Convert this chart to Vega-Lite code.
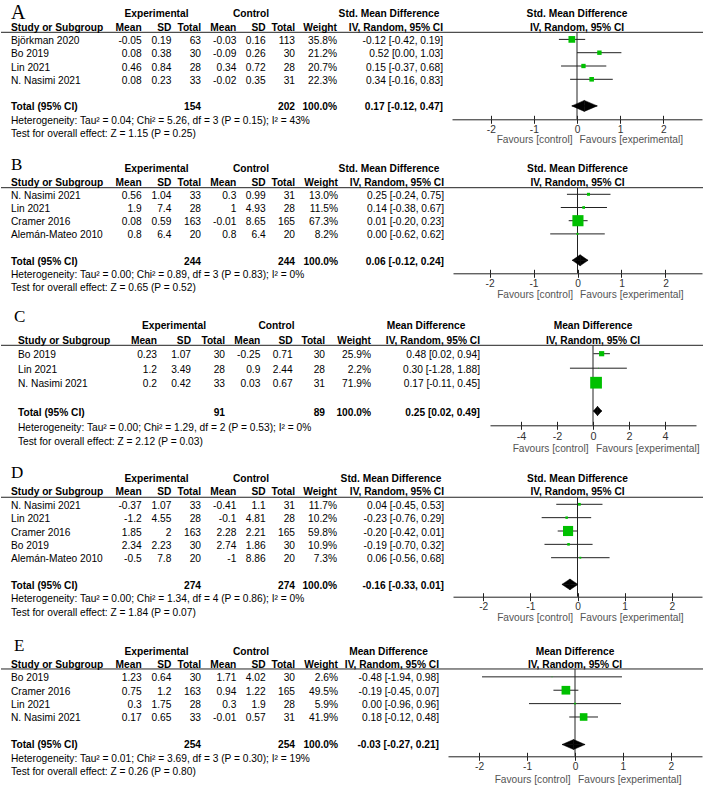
{
"$schema":"https://vega.github.io/schema/vega-lite/v6.json",
"padding":0,"spacing":0,"bounds":"flush","background":"white",
"resolve":{"scale":{"size":"independent"}},
"datasets":{
"hSMD":[{"row":"h1","t":"Std. Mean Difference"},{"row":"h2","t":"IV, Random, 95% CI"}],
"hMD":[{"row":"h1","t":"Mean Difference"},{"row":"h2","t":"IV, Random, 95% CI"}],
"hE":[{"row":"h2","key":"eM","t":"Mean"},{"row":"h2","key":"eSD","t":"SD"},{"row":"h2","key":"eN","t":"Total"}],
"hC":[{"row":"h2","key":"cM","t":"Mean"},{"row":"h2","key":"cSD","t":"SD"},{"row":"h2","key":"cN","t":"Total"}],
"A":[
{"row":"Björkman 2020","eM":-0.05,"eSD":0.19,"eN":63,"cM":-0.03,"cSD":0.16,"cN":113,"w":0.358,"est":-0.12,"lo":-0.42,"hi":0.19,"ci":"-0.12 [-0.42, 0.19]"},
{"row":"Bo 2019","eM":0.08,"eSD":0.38,"eN":30,"cM":-0.09,"cSD":0.26,"cN":30,"w":0.212,"est":0.52,"lo":0.0,"hi":1.03,"ci":"0.52 [0.00, 1.03]"},
{"row":"Lin 2021","eM":0.46,"eSD":0.84,"eN":28,"cM":0.34,"cSD":0.72,"cN":28,"w":0.207,"est":0.15,"lo":-0.37,"hi":0.68,"ci":"0.15 [-0.37, 0.68]"},
{"row":"N. Nasimi 2021","eM":0.08,"eSD":0.23,"eN":33,"cM":-0.02,"cSD":0.35,"cN":31,"w":0.223,"est":0.34,"lo":-0.16,"hi":0.83,"ci":"0.34 [-0.16, 0.83]"}],
"At":[{"row":"Total (95% CI)","eN":154,"cN":202,"w":1,"est":0.17,"lo":-0.12,"hi":0.47,"ci":"0.17 [-0.12, 0.47]"}],
"Ah":[{"row":"het","t":"Heterogeneity: Tau² = 0.04; Chi² = 5.26, df = 3 (P = 0.15); I² = 43%"},{"row":"test","t":"Test for overall effect: Z = 1.15 (P = 0.25)"}],
"B":[
{"row":"N. Nasimi 2021","eM":0.56,"eSD":1.04,"eN":33,"cM":0.3,"cSD":0.99,"cN":31,"w":0.13,"est":0.25,"lo":-0.24,"hi":0.75,"ci":"0.25 [-0.24, 0.75]"},
{"row":"Lin 2021","eM":1.9,"eSD":7.4,"eN":28,"cM":1,"cSD":4.93,"cN":28,"w":0.115,"est":0.14,"lo":-0.38,"hi":0.67,"ci":"0.14 [-0.38, 0.67]"},
{"row":"Cramer 2016","eM":0.08,"eSD":0.59,"eN":163,"cM":-0.01,"cSD":8.65,"cN":165,"w":0.673,"est":0.01,"lo":-0.2,"hi":0.23,"ci":"0.01 [-0.20, 0.23]"},
{"row":"Alemán-Mateo 2010","eM":0.8,"eSD":6.4,"eN":20,"cM":0.8,"cSD":6.4,"cN":20,"w":0.082,"est":0.0,"lo":-0.62,"hi":0.62,"ci":"0.00 [-0.62, 0.62]"}],
"Bt":[{"row":"Total (95% CI)","eN":244,"cN":244,"w":1,"est":0.06,"lo":-0.12,"hi":0.24,"ci":"0.06 [-0.12, 0.24]"}],
"Bh":[{"row":"het","t":"Heterogeneity: Tau² = 0.00; Chi² = 0.89, df = 3 (P = 0.83); I² = 0%"},{"row":"test","t":"Test for overall effect: Z = 0.65 (P = 0.52)"}],
"C":[
{"row":"Bo 2019","eM":0.23,"eSD":1.07,"eN":30,"cM":-0.25,"cSD":0.71,"cN":30,"w":0.259,"est":0.48,"lo":0.02,"hi":0.94,"ci":"0.48 [0.02, 0.94]"},
{"row":"Lin 2021","eM":1.2,"eSD":3.49,"eN":28,"cM":0.9,"cSD":2.44,"cN":28,"w":0.022,"est":0.3,"lo":-1.28,"hi":1.88,"ci":"0.30 [-1.28, 1.88]"},
{"row":"N. Nasimi 2021","eM":0.2,"eSD":0.42,"eN":33,"cM":0.03,"cSD":0.67,"cN":31,"w":0.719,"est":0.17,"lo":-0.11,"hi":0.45,"ci":"0.17 [-0.11, 0.45]"}],
"Ct":[{"row":"Total (95% CI)","eN":91,"cN":89,"w":1,"est":0.25,"lo":0.02,"hi":0.49,"ci":"0.25 [0.02, 0.49]"}],
"Ch":[{"row":"het","t":"Heterogeneity: Tau² = 0.00; Chi² = 1.29, df = 2 (P = 0.53); I² = 0%"},{"row":"test","t":"Test for overall effect: Z = 2.12 (P = 0.03)"}],
"D":[
{"row":"N. Nasimi 2021","eM":-0.37,"eSD":1.07,"eN":33,"cM":-0.41,"cSD":1.1,"cN":31,"w":0.117,"est":0.04,"lo":-0.45,"hi":0.53,"ci":"0.04 [-0.45, 0.53]"},
{"row":"Lin 2021","eM":-1.2,"eSD":4.55,"eN":28,"cM":-0.1,"cSD":4.81,"cN":28,"w":0.102,"est":-0.23,"lo":-0.76,"hi":0.29,"ci":"-0.23 [-0.76, 0.29]"},
{"row":"Cramer 2016","eM":1.85,"eSD":2,"eN":163,"cM":2.28,"cSD":2.21,"cN":165,"w":0.598,"est":-0.2,"lo":-0.42,"hi":0.01,"ci":"-0.20 [-0.42, 0.01]"},
{"row":"Bo 2019","eM":2.34,"eSD":2.23,"eN":30,"cM":2.74,"cSD":1.86,"cN":30,"w":0.109,"est":-0.19,"lo":-0.7,"hi":0.32,"ci":"-0.19 [-0.70, 0.32]"},
{"row":"Alemán-Mateo 2010","eM":-0.5,"eSD":7.8,"eN":20,"cM":-1,"cSD":8.86,"cN":20,"w":0.073,"est":0.06,"lo":-0.56,"hi":0.68,"ci":"0.06 [-0.56, 0.68]"}],
"Dt":[{"row":"Total (95% CI)","eN":274,"cN":274,"w":1,"est":-0.16,"lo":-0.33,"hi":0.01,"ci":"-0.16 [-0.33, 0.01]"}],
"Dh":[{"row":"het","t":"Heterogeneity: Tau² = 0.00; Chi² = 1.34, df = 4 (P = 0.86); I² = 0%"},{"row":"test","t":"Test for overall effect: Z = 1.84 (P = 0.07)"}],
"E":[
{"row":"Bo 2019","eM":1.23,"eSD":0.64,"eN":30,"cM":1.71,"cSD":4.02,"cN":30,"w":0.026,"est":-0.48,"lo":-1.94,"hi":0.98,"ci":"-0.48 [-1.94, 0.98]"},
{"row":"Cramer 2016","eM":0.75,"eSD":1.2,"eN":163,"cM":0.94,"cSD":1.22,"cN":165,"w":0.495,"est":-0.19,"lo":-0.45,"hi":0.07,"ci":"-0.19 [-0.45, 0.07]"},
{"row":"Lin 2021","eM":0.3,"eSD":1.75,"eN":28,"cM":0.3,"cSD":1.9,"cN":28,"w":0.059,"est":0.0,"lo":-0.96,"hi":0.96,"ci":"0.00 [-0.96, 0.96]"},
{"row":"N. Nasimi 2021","eM":0.17,"eSD":0.65,"eN":33,"cM":-0.01,"cSD":0.57,"cN":31,"w":0.419,"est":0.18,"lo":-0.12,"hi":0.48,"ci":"0.18 [-0.12, 0.48]"}],
"Et":[{"row":"Total (95% CI)","eN":254,"cN":254,"w":1,"est":-0.03,"lo":-0.27,"hi":0.21,"ci":"-0.03 [-0.27, 0.21]"}],
"Eh":[{"row":"het","t":"Heterogeneity: Tau² = 0.01; Chi² = 3.69, df = 3 (P = 0.30); I² = 19%"},{"row":"test","t":"Test for overall effect: Z = 0.26 (P = 0.80)"}]
},
"vconcat":[
{"width":702,"height":157,
"encoding":{"y":{"field":"row","type":"nominal","axis":null,"scale":{"type":"point","padding":0,"range":[14.3,134],"domain":["h1","h2","Björkman 2020","Bo 2019","Lin 2021","N. Nasimi 2021","sp","Total (95% CI)","het","test"]}}},
"resolve":{"scale":{"x":"independent","y":"independent","size":"independent"}},
"layer":[
{"data":{"values":[{"row":"h2"}]},"mark":{"type":"rule","yOffset":4.7},"encoding":{}},
{"data":{"values":[{"row":"h2","row2":"het"}]},"mark":{"type":"rule","yOffset":4.7,"y2Offset":-1.4},"encoding":{"x":{"datum":0,"type":"quantitative","axis":null,"scale":{"domain":[-2.9,2.9],"range":[451,701],"nice":false,"zero":false}},"y2":{"field":"row2"}}},
{"data":{"name":"A"},"mark":{"type":"rule","yOffset":-1.5},"encoding":{"x":{"field":"lo","type":"quantitative","scale":{"domain":[-2.9,2.9],"range":[451,701],"nice":false,"zero":false},"axis":{"orient":"bottom","offset":-37.7,"values":[-2,-1,0,1,2],"title":null}},"x2":{"field":"hi"}}},
{"data":{"name":"A"},"mark":{"type":"point","shape":"square","filled":true,"opacity":1,"color":"#00c000","yOffset":-1.5},"encoding":{"x":{"field":"est","type":"quantitative","scale":{"domain":[-2.9,2.9],"range":[451,701],"nice":false,"zero":false},"axis":{"orient":"top","offset":-119.3,"values":[-2,-1,0,1,2],"labels":false,"domain":false,"title":null}},"size":{"field":"w","type":"quantitative","legend":null,"scale":{"type":"pow","exponent":1.6,"domain":[0,1],"range":[0,233]}}}},
{"data":{"name":"At"},"transform":[{"fold":["est","lo"]}],"mark":{"type":"area","orient":"horizontal","color":"#000","stroke":"#000","strokeWidth":0.5},"encoding":{"x":{"field":"value","type":"quantitative","axis":null,"scale":{"domain":[-2.9,2.9],"range":[451,701],"nice":false,"zero":false}},"x2":{"field":"est"},"y":{"field":"key","type":"nominal","axis":null,"scale":{"type":"point","padding":0,"domain":["est","lo"],"range":[100.4,105.9]}}}},
{"data":{"name":"At"},"transform":[{"fold":["lo","est"]}],"mark":{"type":"area","orient":"horizontal","color":"#000","stroke":"#000","strokeWidth":0.5},"encoding":{"x":{"field":"value","type":"quantitative","axis":null,"scale":{"domain":[-2.9,2.9],"range":[451,701],"nice":false,"zero":false}},"x2":{"field":"est"},"y":{"field":"key","type":"nominal","axis":null,"scale":{"type":"point","padding":0,"domain":["lo","est"],"range":[105.9,111.4]}}}},
{"data":{"name":"At"},"transform":[{"fold":["est","hi"]}],"mark":{"type":"area","orient":"horizontal","color":"#000","stroke":"#000","strokeWidth":0.5},"encoding":{"x":{"field":"value","type":"quantitative","axis":null,"scale":{"domain":[-2.9,2.9],"range":[451,701],"nice":false,"zero":false}},"x2":{"field":"est"},"y":{"field":"key","type":"nominal","axis":null,"scale":{"type":"point","padding":0,"domain":["est","hi"],"range":[100.4,105.9]}}}},
{"data":{"name":"At"},"transform":[{"fold":["hi","est"]}],"mark":{"type":"area","orient":"horizontal","color":"#000","stroke":"#000","strokeWidth":0.5},"encoding":{"x":{"field":"value","type":"quantitative","axis":null,"scale":{"domain":[-2.9,2.9],"range":[451,701],"nice":false,"zero":false}},"x2":{"field":"est"},"y":{"field":"key","type":"nominal","axis":null,"scale":{"type":"point","padding":0,"domain":["hi","est"],"range":[105.9,111.4]}}}},
{"data":{"name":"hSMD"},"mark":{"type":"text","style":"hd"},"encoding":{"x":{"datum":0,"type":"quantitative","axis":null,"scale":{"domain":[-2.9,2.9],"range":[451,701],"nice":false,"zero":false}},"text":{"field":"t"}}},
{"data":{"values":[{"row":"test"}]},"mark":{"type":"text","style":"fav","align":"right","dx":-4.5,"dy":6,"text":"Favours [control]"},"encoding":{"x":{"datum":0,"type":"quantitative","axis":null,"scale":{"domain":[-2.9,2.9],"range":[451,701],"nice":false,"zero":false}}}},
{"data":{"values":[{"row":"test"}]},"mark":{"type":"text","style":"fav","align":"left","dx":2.5,"dy":6,"text":"Favours [experimental]"},"encoding":{"x":{"datum":0,"type":"quantitative","axis":null,"scale":{"domain":[-2.9,2.9],"range":[451,701],"nice":false,"zero":false}}}},
{"data":{"name":"A"},"mark":{"type":"text","align":"left"},"encoding":{"x":{"datum":"L","type":"nominal","axis":null,"scale":{"type":"point","domain":["L"],"range":[10,10]}},"text":{"field":"row"}}},
{"data":{"name":"At"},"mark":{"type":"text","align":"left","style":"hd"},"encoding":{"x":{"datum":"L","type":"nominal","axis":null,"scale":{"type":"point","domain":["L"],"range":[10,10]}},"text":{"field":"row"}}},
{"data":{"name":"Ah"},"mark":{"type":"text","align":"left"},"encoding":{"x":{"datum":"L","type":"nominal","axis":null,"scale":{"type":"point","domain":["L"],"range":[10,10]}},"text":{"field":"t"}}},
{"data":{"values":[{"row":"h2"}]},"mark":{"type":"text","align":"left","style":"hd","text":"Study or Subgroup"},"encoding":{"x":{"datum":"L","type":"nominal","axis":null,"scale":{"type":"point","domain":["L"],"range":[10,10]}}}},
{"data":{"values":[{"row":"h1"}]},"mark":{"type":"text","align":"left","baseline":"alphabetic","font":"Liberation Serif","fontSize":20,"dy":4.7,"text":"A"},"encoding":{"x":{"datum":"L","type":"nominal","axis":null,"scale":{"type":"point","domain":["L"],"range":[10,10]}}}},
{"data":{"name":"A"},"transform":[{"fold":["eM","eSD","eN"]}],"mark":{"type":"text","align":"right"},"encoding":{"x":{"field":"key","type":"nominal","axis":null,"bandPosition":1,"scale":{"type":"band","domain":["eM","eSD","eN"],"range":[111,200],"paddingInner":0,"paddingOuter":0}},"text":{"field":"value","type":"nominal"}}},
{"data":{"name":"At"},"transform":[{"fold":["eN"]}],"mark":{"type":"text","align":"right","style":"hd"},"encoding":{"x":{"field":"key","type":"nominal","axis":null,"bandPosition":1,"scale":{"type":"band","domain":["eM","eSD","eN"],"range":[111,200],"paddingInner":0,"paddingOuter":0}},"text":{"field":"value","type":"nominal"}}},
{"data":{"name":"hE"},"mark":{"type":"text","align":"right","style":"hd"},"encoding":{"x":{"field":"key","type":"nominal","axis":null,"bandPosition":1,"scale":{"type":"band","domain":["eM","eSD","eN"],"range":[111,200],"paddingInner":0,"paddingOuter":0}},"text":{"field":"t"}}},
{"data":{"values":[{"row":"h1","key":"eSD"}]},"mark":{"type":"text","style":"hd","text":"Experimental"},"encoding":{"x":{"field":"key","type":"nominal","axis":null,"bandPosition":0.5,"scale":{"type":"band","domain":["eM","eSD","eN"],"range":[111,200],"paddingInner":0,"paddingOuter":0}}}},
{"data":{"name":"A"},"transform":[{"fold":["cM","cSD","cN"]}],"mark":{"type":"text","align":"right"},"encoding":{"x":{"field":"key","type":"nominal","axis":null,"bandPosition":1,"scale":{"type":"band","domain":["cM","cSD","cN"],"range":[206,294],"paddingInner":0,"paddingOuter":0}},"text":{"field":"value","type":"nominal"}}},
{"data":{"name":"At"},"transform":[{"fold":["cN"]}],"mark":{"type":"text","align":"right","style":"hd"},"encoding":{"x":{"field":"key","type":"nominal","axis":null,"bandPosition":1,"scale":{"type":"band","domain":["cM","cSD","cN"],"range":[206,294],"paddingInner":0,"paddingOuter":0}},"text":{"field":"value","type":"nominal"}}},
{"data":{"name":"hC"},"mark":{"type":"text","align":"right","style":"hd"},"encoding":{"x":{"field":"key","type":"nominal","axis":null,"bandPosition":1,"scale":{"type":"band","domain":["cM","cSD","cN"],"range":[206,294],"paddingInner":0,"paddingOuter":0}},"text":{"field":"t"}}},
{"data":{"values":[{"row":"h1","key":"cSD"}]},"mark":{"type":"text","style":"hd","text":"Control"},"encoding":{"x":{"field":"key","type":"nominal","axis":null,"bandPosition":0.5,"scale":{"type":"band","domain":["cM","cSD","cN"],"range":[206,294],"paddingInner":0,"paddingOuter":0}}}},
{"data":{"name":"A"},"mark":{"type":"text","align":"right"},"encoding":{"x":{"datum":"W","type":"nominal","axis":null,"scale":{"type":"point","domain":["W"],"range":[336,336]}},"text":{"field":"w","type":"quantitative","format":".1%"}}},
{"data":{"name":"At"},"mark":{"type":"text","align":"right","style":"hd"},"encoding":{"x":{"datum":"W","type":"nominal","axis":null,"scale":{"type":"point","domain":["W"],"range":[336,336]}},"text":{"field":"w","type":"quantitative","format":".1%"}}},
{"data":{"values":[{"row":"h2"}]},"mark":{"type":"text","align":"right","style":"hd","text":"Weight"},"encoding":{"x":{"datum":"W","type":"nominal","axis":null,"scale":{"type":"point","domain":["W"],"range":[336,336]}}}},
{"data":{"name":"A"},"mark":{"type":"text","align":"right"},"encoding":{"x":{"datum":"CI","type":"nominal","axis":null,"scale":{"type":"point","domain":["CI"],"range":[442,442]}},"text":{"field":"ci"}}},
{"data":{"name":"At"},"mark":{"type":"text","align":"right","style":"hd"},"encoding":{"x":{"datum":"CI","type":"nominal","axis":null,"scale":{"type":"point","domain":["CI"],"range":[442,442]}},"text":{"field":"ci"}}},
{"data":{"name":"hSMD"},"transform":[{"filter":"datum.row == 'h2'"}],"mark":{"type":"text","align":"right","style":"hd"},"encoding":{"x":{"datum":"CI","type":"nominal","axis":null,"scale":{"type":"point","domain":["CI"],"range":[442,442]}},"text":{"field":"t"}}},
{"data":{"name":"hSMD"},"transform":[{"filter":"datum.row == 'h1'"}],"mark":{"type":"text","style":"hd"},"encoding":{"x":{"datum":"CI","type":"nominal","axis":null,"scale":{"type":"point","domain":["CI"],"range":[388,388]}},"text":{"field":"t"}}}
]},
{"width":702,"height":157,
"encoding":{"y":{"field":"row","type":"nominal","axis":null,"scale":{"type":"point","padding":0,"range":[12.4,131.2],"domain":["h1","h2","N. Nasimi 2021","Lin 2021","Cramer 2016","Alemán-Mateo 2010","sp","Total (95% CI)","het","test"]}}},
"resolve":{"scale":{"x":"independent","y":"independent","size":"independent"}},
"layer":[
{"data":{"values":[{"row":"h2"}]},"mark":{"type":"rule","yOffset":5.1},"encoding":{}},
{"data":{"values":[{"row":"h2","row2":"het"}]},"mark":{"type":"rule","yOffset":5.1,"y2Offset":-1.7},"encoding":{"x":{"datum":0,"type":"quantitative","axis":null,"scale":{"domain":[-2.83,2.83],"range":[452,701],"nice":false,"zero":false}},"y2":{"field":"row2"}}},
{"data":{"name":"B"},"mark":{"type":"rule","yOffset":-1.5},"encoding":{"x":{"field":"lo","type":"quantitative","scale":{"domain":[-2.83,2.83],"range":[452,701],"nice":false,"zero":false},"axis":{"orient":"bottom","offset":-40.7,"values":[-2,-1,0,1,2],"title":null}},"x2":{"field":"hi"}}},
{"data":{"name":"B"},"mark":{"type":"point","shape":"square","filled":true,"opacity":1,"color":"#00c000","yOffset":-1.5},"encoding":{"x":{"field":"est","type":"quantitative","scale":{"domain":[-2.83,2.83],"range":[452,701],"nice":false,"zero":false},"axis":{"orient":"top","offset":-116.3,"values":[-2,-1,0,1,2],"labels":false,"domain":false,"title":null}},"size":{"field":"w","type":"quantitative","legend":null,"scale":{"type":"pow","exponent":1.6,"domain":[0,1],"range":[0,233]}}}},
{"data":{"name":"Bt"},"transform":[{"fold":["est","lo"]}],"mark":{"type":"area","orient":"horizontal","color":"#000","stroke":"#000","strokeWidth":0.5},"encoding":{"x":{"field":"value","type":"quantitative","axis":null,"scale":{"domain":[-2.83,2.83],"range":[452,701],"nice":false,"zero":false}},"x2":{"field":"est"},"y":{"field":"key","type":"nominal","axis":null,"scale":{"type":"point","padding":0,"domain":["est","lo"],"range":[97.8,103.3]}}}},
{"data":{"name":"Bt"},"transform":[{"fold":["lo","est"]}],"mark":{"type":"area","orient":"horizontal","color":"#000","stroke":"#000","strokeWidth":0.5},"encoding":{"x":{"field":"value","type":"quantitative","axis":null,"scale":{"domain":[-2.83,2.83],"range":[452,701],"nice":false,"zero":false}},"x2":{"field":"est"},"y":{"field":"key","type":"nominal","axis":null,"scale":{"type":"point","padding":0,"domain":["lo","est"],"range":[103.3,108.8]}}}},
{"data":{"name":"Bt"},"transform":[{"fold":["est","hi"]}],"mark":{"type":"area","orient":"horizontal","color":"#000","stroke":"#000","strokeWidth":0.5},"encoding":{"x":{"field":"value","type":"quantitative","axis":null,"scale":{"domain":[-2.83,2.83],"range":[452,701],"nice":false,"zero":false}},"x2":{"field":"est"},"y":{"field":"key","type":"nominal","axis":null,"scale":{"type":"point","padding":0,"domain":["est","hi"],"range":[97.8,103.3]}}}},
{"data":{"name":"Bt"},"transform":[{"fold":["hi","est"]}],"mark":{"type":"area","orient":"horizontal","color":"#000","stroke":"#000","strokeWidth":0.5},"encoding":{"x":{"field":"value","type":"quantitative","axis":null,"scale":{"domain":[-2.83,2.83],"range":[452,701],"nice":false,"zero":false}},"x2":{"field":"est"},"y":{"field":"key","type":"nominal","axis":null,"scale":{"type":"point","padding":0,"domain":["hi","est"],"range":[103.3,108.8]}}}},
{"data":{"name":"hSMD"},"mark":{"type":"text","style":"hd"},"encoding":{"x":{"datum":0,"type":"quantitative","axis":null,"scale":{"domain":[-2.83,2.83],"range":[452,701],"nice":false,"zero":false}},"text":{"field":"t"}}},
{"data":{"values":[{"row":"test"}]},"mark":{"type":"text","style":"fav","align":"right","dx":-4.5,"dy":6.8,"text":"Favours [control]"},"encoding":{"x":{"datum":0,"type":"quantitative","axis":null,"scale":{"domain":[-2.83,2.83],"range":[452,701],"nice":false,"zero":false}}}},
{"data":{"values":[{"row":"test"}]},"mark":{"type":"text","style":"fav","align":"left","dx":2.5,"dy":6.8,"text":"Favours [experimental]"},"encoding":{"x":{"datum":0,"type":"quantitative","axis":null,"scale":{"domain":[-2.83,2.83],"range":[452,701],"nice":false,"zero":false}}}},
{"data":{"name":"B"},"mark":{"type":"text","align":"left"},"encoding":{"x":{"datum":"L","type":"nominal","axis":null,"scale":{"type":"point","domain":["L"],"range":[10,10]}},"text":{"field":"row"}}},
{"data":{"name":"Bt"},"mark":{"type":"text","align":"left","style":"hd"},"encoding":{"x":{"datum":"L","type":"nominal","axis":null,"scale":{"type":"point","domain":["L"],"range":[10,10]}},"text":{"field":"row"}}},
{"data":{"name":"Bh"},"mark":{"type":"text","align":"left"},"encoding":{"x":{"datum":"L","type":"nominal","axis":null,"scale":{"type":"point","domain":["L"],"range":[10,10]}},"text":{"field":"t"}}},
{"data":{"values":[{"row":"h2"}]},"mark":{"type":"text","align":"left","style":"hd","text":"Study or Subgroup"},"encoding":{"x":{"datum":"L","type":"nominal","axis":null,"scale":{"type":"point","domain":["L"],"range":[10,10]}}}},
{"data":{"values":[{"row":"h1"}]},"mark":{"type":"text","align":"left","baseline":"alphabetic","font":"Liberation Serif","fontSize":17,"dy":0.6,"text":"B"},"encoding":{"x":{"datum":"L","type":"nominal","axis":null,"scale":{"type":"point","domain":["L"],"range":[10,10]}}}},
{"data":{"name":"B"},"transform":[{"fold":["eM","eSD","eN"]}],"mark":{"type":"text","align":"right"},"encoding":{"x":{"field":"key","type":"nominal","axis":null,"bandPosition":1,"scale":{"type":"band","domain":["eM","eSD","eN"],"range":[111,200],"paddingInner":0,"paddingOuter":0}},"text":{"field":"value","type":"nominal"}}},
{"data":{"name":"Bt"},"transform":[{"fold":["eN"]}],"mark":{"type":"text","align":"right","style":"hd"},"encoding":{"x":{"field":"key","type":"nominal","axis":null,"bandPosition":1,"scale":{"type":"band","domain":["eM","eSD","eN"],"range":[111,200],"paddingInner":0,"paddingOuter":0}},"text":{"field":"value","type":"nominal"}}},
{"data":{"name":"hE"},"mark":{"type":"text","align":"right","style":"hd"},"encoding":{"x":{"field":"key","type":"nominal","axis":null,"bandPosition":1,"scale":{"type":"band","domain":["eM","eSD","eN"],"range":[111,200],"paddingInner":0,"paddingOuter":0}},"text":{"field":"t"}}},
{"data":{"values":[{"row":"h1","key":"eSD"}]},"mark":{"type":"text","style":"hd","text":"Experimental"},"encoding":{"x":{"field":"key","type":"nominal","axis":null,"bandPosition":0.5,"scale":{"type":"band","domain":["eM","eSD","eN"],"range":[111,200],"paddingInner":0,"paddingOuter":0}}}},
{"data":{"name":"B"},"transform":[{"fold":["cM","cSD","cN"]}],"mark":{"type":"text","align":"right"},"encoding":{"x":{"field":"key","type":"nominal","axis":null,"bandPosition":1,"scale":{"type":"band","domain":["cM","cSD","cN"],"range":[206,294],"paddingInner":0,"paddingOuter":0}},"text":{"field":"value","type":"nominal"}}},
{"data":{"name":"Bt"},"transform":[{"fold":["cN"]}],"mark":{"type":"text","align":"right","style":"hd"},"encoding":{"x":{"field":"key","type":"nominal","axis":null,"bandPosition":1,"scale":{"type":"band","domain":["cM","cSD","cN"],"range":[206,294],"paddingInner":0,"paddingOuter":0}},"text":{"field":"value","type":"nominal"}}},
{"data":{"name":"hC"},"mark":{"type":"text","align":"right","style":"hd"},"encoding":{"x":{"field":"key","type":"nominal","axis":null,"bandPosition":1,"scale":{"type":"band","domain":["cM","cSD","cN"],"range":[206,294],"paddingInner":0,"paddingOuter":0}},"text":{"field":"t"}}},
{"data":{"values":[{"row":"h1","key":"cSD"}]},"mark":{"type":"text","style":"hd","text":"Control"},"encoding":{"x":{"field":"key","type":"nominal","axis":null,"bandPosition":0.5,"scale":{"type":"band","domain":["cM","cSD","cN"],"range":[206,294],"paddingInner":0,"paddingOuter":0}}}},
{"data":{"name":"B"},"mark":{"type":"text","align":"right"},"encoding":{"x":{"datum":"W","type":"nominal","axis":null,"scale":{"type":"point","domain":["W"],"range":[337,337]}},"text":{"field":"w","type":"quantitative","format":".1%"}}},
{"data":{"name":"Bt"},"mark":{"type":"text","align":"right","style":"hd"},"encoding":{"x":{"datum":"W","type":"nominal","axis":null,"scale":{"type":"point","domain":["W"],"range":[337,337]}},"text":{"field":"w","type":"quantitative","format":".1%"}}},
{"data":{"values":[{"row":"h2"}]},"mark":{"type":"text","align":"right","style":"hd","text":"Weight"},"encoding":{"x":{"datum":"W","type":"nominal","axis":null,"scale":{"type":"point","domain":["W"],"range":[337,337]}}}},
{"data":{"name":"B"},"mark":{"type":"text","align":"right"},"encoding":{"x":{"datum":"CI","type":"nominal","axis":null,"scale":{"type":"point","domain":["CI"],"range":[443,443]}},"text":{"field":"ci"}}},
{"data":{"name":"Bt"},"mark":{"type":"text","align":"right","style":"hd"},"encoding":{"x":{"datum":"CI","type":"nominal","axis":null,"scale":{"type":"point","domain":["CI"],"range":[443,443]}},"text":{"field":"ci"}}},
{"data":{"name":"hSMD"},"transform":[{"filter":"datum.row == 'h2'"}],"mark":{"type":"text","align":"right","style":"hd"},"encoding":{"x":{"datum":"CI","type":"nominal","axis":null,"scale":{"type":"point","domain":["CI"],"range":[443,443]}},"text":{"field":"t"}}},
{"data":{"name":"hSMD"},"transform":[{"filter":"datum.row == 'h1'"}],"mark":{"type":"text","style":"hd"},"encoding":{"x":{"datum":"CI","type":"nominal","axis":null,"scale":{"type":"point","domain":["CI"],"range":[388,388]}},"text":{"field":"t"}}}
]},
{"width":702,"height":156,
"encoding":{"y":{"field":"row","type":"nominal","axis":null,"scale":{"type":"point","padding":0,"range":[12.2,128.2],"domain":["h1","h2","Bo 2019","Lin 2021","N. Nasimi 2021","sp","Total (95% CI)","het","test"]}}},
"resolve":{"scale":{"x":"independent","y":"independent","size":"independent"}},
"layer":[
{"data":{"values":[{"row":"h2"}]},"mark":{"type":"rule","yOffset":4.6},"encoding":{}},
{"data":{"values":[{"row":"h2","row2":"het"}]},"mark":{"type":"rule","yOffset":4.6,"y2Offset":-2.4},"encoding":{"x":{"datum":0,"type":"quantitative","axis":null,"scale":{"domain":[-5.72,5.72],"range":[489,695],"nice":false,"zero":false}},"y2":{"field":"row2"}}},
{"data":{"name":"C"},"mark":{"type":"rule","yOffset":-1.5},"encoding":{"x":{"field":"lo","type":"quantitative","scale":{"domain":[-5.72,5.72],"range":[489,695],"nice":false,"zero":false},"axis":{"orient":"bottom","offset":-44.7,"values":[-4,-2,0,2,4],"title":null,"labelFontSize":10.8}},"x2":{"field":"hi"}}},
{"data":{"name":"C"},"mark":{"type":"point","shape":"square","filled":true,"opacity":1,"color":"#00c000","yOffset":-1.5},"encoding":{"x":{"field":"est","type":"quantitative","scale":{"domain":[-5.72,5.72],"range":[489,695],"nice":false,"zero":false},"axis":{"orient":"top","offset":-111.3,"values":[-4,-2,0,2,4],"labels":false,"domain":false,"title":null}},"size":{"field":"w","type":"quantitative","legend":null,"scale":{"type":"pow","exponent":1.6,"domain":[0,1],"range":[0,233]}}}},
{"data":{"name":"Ct"},"transform":[{"fold":["est","lo"]}],"mark":{"type":"area","orient":"horizontal","color":"#000","stroke":"#000","strokeWidth":0.5},"encoding":{"x":{"field":"value","type":"quantitative","axis":null,"scale":{"domain":[-5.72,5.72],"range":[489,695],"nice":false,"zero":false}},"x2":{"field":"est"},"y":{"field":"key","type":"nominal","axis":null,"scale":{"type":"point","padding":0,"domain":["est","lo"],"range":[92.3,97]}}}},
{"data":{"name":"Ct"},"transform":[{"fold":["lo","est"]}],"mark":{"type":"area","orient":"horizontal","color":"#000","stroke":"#000","strokeWidth":0.5},"encoding":{"x":{"field":"value","type":"quantitative","axis":null,"scale":{"domain":[-5.72,5.72],"range":[489,695],"nice":false,"zero":false}},"x2":{"field":"est"},"y":{"field":"key","type":"nominal","axis":null,"scale":{"type":"point","padding":0,"domain":["lo","est"],"range":[97,101.7]}}}},
{"data":{"name":"Ct"},"transform":[{"fold":["est","hi"]}],"mark":{"type":"area","orient":"horizontal","color":"#000","stroke":"#000","strokeWidth":0.5},"encoding":{"x":{"field":"value","type":"quantitative","axis":null,"scale":{"domain":[-5.72,5.72],"range":[489,695],"nice":false,"zero":false}},"x2":{"field":"est"},"y":{"field":"key","type":"nominal","axis":null,"scale":{"type":"point","padding":0,"domain":["est","hi"],"range":[92.3,97]}}}},
{"data":{"name":"Ct"},"transform":[{"fold":["hi","est"]}],"mark":{"type":"area","orient":"horizontal","color":"#000","stroke":"#000","strokeWidth":0.5},"encoding":{"x":{"field":"value","type":"quantitative","axis":null,"scale":{"domain":[-5.72,5.72],"range":[489,695],"nice":false,"zero":false}},"x2":{"field":"est"},"y":{"field":"key","type":"nominal","axis":null,"scale":{"type":"point","padding":0,"domain":["hi","est"],"range":[97,101.7]}}}},
{"data":{"name":"hMD"},"mark":{"type":"text","style":"hdc"},"encoding":{"x":{"datum":0,"type":"quantitative","axis":null,"scale":{"domain":[-5.72,5.72],"range":[489,695],"nice":false,"zero":false}},"text":{"field":"t"}}},
{"data":{"values":[{"row":"test"}]},"mark":{"type":"text","style":["c","fav"],"align":"right","dx":-4.5,"dy":6.5,"text":"Favours [control]"},"encoding":{"x":{"datum":0,"type":"quantitative","axis":null,"scale":{"domain":[-5.72,5.72],"range":[489,695],"nice":false,"zero":false}}}},
{"data":{"values":[{"row":"test"}]},"mark":{"type":"text","style":["c","fav"],"align":"left","dx":3,"dy":6.5,"text":"Favours [experimental]"},"encoding":{"x":{"datum":0,"type":"quantitative","axis":null,"scale":{"domain":[-5.72,5.72],"range":[489,695],"nice":false,"zero":false}}}},
{"data":{"name":"C"},"mark":{"type":"text","align":"left","style":"c"},"encoding":{"x":{"datum":"L","type":"nominal","axis":null,"scale":{"type":"point","domain":["L"],"range":[17,17]}},"text":{"field":"row"}}},
{"data":{"name":"Ct"},"mark":{"type":"text","align":"left","style":"hdc"},"encoding":{"x":{"datum":"L","type":"nominal","axis":null,"scale":{"type":"point","domain":["L"],"range":[17,17]}},"text":{"field":"row"}}},
{"data":{"name":"Ch"},"mark":{"type":"text","align":"left","style":"c"},"encoding":{"x":{"datum":"L","type":"nominal","axis":null,"scale":{"type":"point","domain":["L"],"range":[17,17]}},"text":{"field":"t"}}},
{"data":{"values":[{"row":"h2"}]},"mark":{"type":"text","align":"left","style":"hdc","text":"Study or Subgroup"},"encoding":{"x":{"datum":"L","type":"nominal","axis":null,"scale":{"type":"point","domain":["L"],"range":[17,17]}}}},
{"data":{"values":[{"row":"h1"}]},"mark":{"type":"text","align":"left","baseline":"alphabetic","font":"Liberation Serif","fontSize":17,"dy":-4.2,"text":"C"},"encoding":{"x":{"datum":"L","type":"nominal","axis":null,"scale":{"type":"point","domain":["L"],"range":[13,13]}}}},
{"data":{"name":"C"},"transform":[{"fold":["eM","eSD","eN"]}],"mark":{"type":"text","align":"right","style":"c"},"encoding":{"x":{"field":"key","type":"nominal","axis":null,"bandPosition":1,"scale":{"type":"band","domain":["eM","eSD","eN"],"range":[122,224],"paddingInner":0,"paddingOuter":0}},"text":{"field":"value","type":"nominal"}}},
{"data":{"name":"Ct"},"transform":[{"fold":["eN"]}],"mark":{"type":"text","align":"right","style":"hdc"},"encoding":{"x":{"field":"key","type":"nominal","axis":null,"bandPosition":1,"scale":{"type":"band","domain":["eM","eSD","eN"],"range":[122,224],"paddingInner":0,"paddingOuter":0}},"text":{"field":"value","type":"nominal"}}},
{"data":{"name":"hE"},"mark":{"type":"text","align":"right","style":"hdc"},"encoding":{"x":{"field":"key","type":"nominal","axis":null,"bandPosition":1,"scale":{"type":"band","domain":["eM","eSD","eN"],"range":[122,224],"paddingInner":0,"paddingOuter":0}},"text":{"field":"t"}}},
{"data":{"values":[{"row":"h1","key":"eSD"}]},"mark":{"type":"text","style":"hdc","text":"Experimental"},"encoding":{"x":{"field":"key","type":"nominal","axis":null,"bandPosition":0.5,"scale":{"type":"band","domain":["eM","eSD","eN"],"range":[122,224],"paddingInner":0,"paddingOuter":0}}}},
{"data":{"name":"C"},"transform":[{"fold":["cM","cSD","cN"]}],"mark":{"type":"text","align":"right","style":"c"},"encoding":{"x":{"field":"key","type":"nominal","axis":null,"bandPosition":1,"scale":{"type":"band","domain":["cM","cSD","cN"],"range":[227,324],"paddingInner":0,"paddingOuter":0}},"text":{"field":"value","type":"nominal"}}},
{"data":{"name":"Ct"},"transform":[{"fold":["cN"]}],"mark":{"type":"text","align":"right","style":"hdc"},"encoding":{"x":{"field":"key","type":"nominal","axis":null,"bandPosition":1,"scale":{"type":"band","domain":["cM","cSD","cN"],"range":[227,324],"paddingInner":0,"paddingOuter":0}},"text":{"field":"value","type":"nominal"}}},
{"data":{"name":"hC"},"mark":{"type":"text","align":"right","style":"hdc"},"encoding":{"x":{"field":"key","type":"nominal","axis":null,"bandPosition":1,"scale":{"type":"band","domain":["cM","cSD","cN"],"range":[227,324],"paddingInner":0,"paddingOuter":0}},"text":{"field":"t"}}},
{"data":{"values":[{"row":"h1","key":"cSD"}]},"mark":{"type":"text","style":"hdc","text":"Control"},"encoding":{"x":{"field":"key","type":"nominal","axis":null,"bandPosition":0.5,"scale":{"type":"band","domain":["cM","cSD","cN"],"range":[227,324],"paddingInner":0,"paddingOuter":0}}}},
{"data":{"name":"C"},"mark":{"type":"text","align":"right","style":"c"},"encoding":{"x":{"datum":"W","type":"nominal","axis":null,"scale":{"type":"point","domain":["W"],"range":[370,370]}},"text":{"field":"w","type":"quantitative","format":".1%"}}},
{"data":{"name":"Ct"},"mark":{"type":"text","align":"right","style":"hdc"},"encoding":{"x":{"datum":"W","type":"nominal","axis":null,"scale":{"type":"point","domain":["W"],"range":[370,370]}},"text":{"field":"w","type":"quantitative","format":".1%"}}},
{"data":{"values":[{"row":"h2"}]},"mark":{"type":"text","align":"right","style":"hdc","text":"Weight"},"encoding":{"x":{"datum":"W","type":"nominal","axis":null,"scale":{"type":"point","domain":["W"],"range":[370,370]}}}},
{"data":{"name":"C"},"mark":{"type":"text","align":"right","style":"c"},"encoding":{"x":{"datum":"CI","type":"nominal","axis":null,"scale":{"type":"point","domain":["CI"],"range":[479,479]}},"text":{"field":"ci"}}},
{"data":{"name":"Ct"},"mark":{"type":"text","align":"right","style":"hdc"},"encoding":{"x":{"datum":"CI","type":"nominal","axis":null,"scale":{"type":"point","domain":["CI"],"range":[479,479]}},"text":{"field":"ci"}}},
{"data":{"name":"hMD"},"transform":[{"filter":"datum.row == 'h2'"}],"mark":{"type":"text","align":"right","style":"hdc"},"encoding":{"x":{"datum":"CI","type":"nominal","axis":null,"scale":{"type":"point","domain":["CI"],"range":[479,479]}},"text":{"field":"t"}}},
{"data":{"name":"hMD"},"transform":[{"filter":"datum.row == 'h1'"}],"mark":{"type":"text","style":"hdc"},"encoding":{"x":{"datum":"CI","type":"nominal","axis":null,"scale":{"type":"point","domain":["CI"],"range":[425,425]}},"text":{"field":"t"}}}
]},
{"width":702,"height":158,
"encoding":{"y":{"field":"row","type":"nominal","axis":null,"scale":{"type":"point","padding":0,"range":[9.1,142.6],"domain":["h1","h2","N. Nasimi 2021","Lin 2021","Cramer 2016","Bo 2019","Alemán-Mateo 2010","sp","Total (95% CI)","het","test"]}}},
"resolve":{"scale":{"x":"independent","y":"independent","size":"independent"}},
"layer":[
{"data":{"values":[{"row":"h2"}]},"mark":{"type":"rule","yOffset":4.8},"encoding":{}},
{"data":{"values":[{"row":"h2","row2":"het"}]},"mark":{"type":"rule","yOffset":4.8,"y2Offset":-2.5},"encoding":{"x":{"datum":0,"type":"quantitative","axis":null,"scale":{"domain":[-2.64,2.64],"range":[452,701],"nice":false,"zero":false}},"y2":{"field":"row2"}}},
{"data":{"name":"D"},"mark":{"type":"rule","yOffset":-1.5},"encoding":{"x":{"field":"lo","type":"quantitative","scale":{"domain":[-2.64,2.64],"range":[452,701],"nice":false,"zero":false},"axis":{"orient":"bottom","offset":-31.3,"values":[-2,-1,0,1,2],"title":null}},"x2":{"field":"hi"}}},
{"data":{"name":"D"},"mark":{"type":"point","shape":"square","filled":true,"opacity":1,"color":"#00c000","yOffset":-1.5},"encoding":{"x":{"field":"est","type":"quantitative","scale":{"domain":[-2.64,2.64],"range":[452,701],"nice":false,"zero":false},"axis":{"orient":"top","offset":-126.7,"values":[-2,-1,0,1,2],"labels":false,"domain":false,"title":null}},"size":{"field":"w","type":"quantitative","legend":null,"scale":{"type":"pow","exponent":1.6,"domain":[0,1],"range":[0,233]}}}},
{"data":{"name":"Dt"},"transform":[{"fold":["est","lo"]}],"mark":{"type":"area","orient":"horizontal","color":"#000","stroke":"#000","strokeWidth":0.5},"encoding":{"x":{"field":"value","type":"quantitative","axis":null,"scale":{"domain":[-2.64,2.64],"range":[452,701],"nice":false,"zero":false}},"x2":{"field":"est"},"y":{"field":"key","type":"nominal","axis":null,"scale":{"type":"point","padding":0,"domain":["est","lo"],"range":[109,114.4]}}}},
{"data":{"name":"Dt"},"transform":[{"fold":["lo","est"]}],"mark":{"type":"area","orient":"horizontal","color":"#000","stroke":"#000","strokeWidth":0.5},"encoding":{"x":{"field":"value","type":"quantitative","axis":null,"scale":{"domain":[-2.64,2.64],"range":[452,701],"nice":false,"zero":false}},"x2":{"field":"est"},"y":{"field":"key","type":"nominal","axis":null,"scale":{"type":"point","padding":0,"domain":["lo","est"],"range":[114.4,119.8]}}}},
{"data":{"name":"Dt"},"transform":[{"fold":["est","hi"]}],"mark":{"type":"area","orient":"horizontal","color":"#000","stroke":"#000","strokeWidth":0.5},"encoding":{"x":{"field":"value","type":"quantitative","axis":null,"scale":{"domain":[-2.64,2.64],"range":[452,701],"nice":false,"zero":false}},"x2":{"field":"est"},"y":{"field":"key","type":"nominal","axis":null,"scale":{"type":"point","padding":0,"domain":["est","hi"],"range":[109,114.4]}}}},
{"data":{"name":"Dt"},"transform":[{"fold":["hi","est"]}],"mark":{"type":"area","orient":"horizontal","color":"#000","stroke":"#000","strokeWidth":0.5},"encoding":{"x":{"field":"value","type":"quantitative","axis":null,"scale":{"domain":[-2.64,2.64],"range":[452,701],"nice":false,"zero":false}},"x2":{"field":"est"},"y":{"field":"key","type":"nominal","axis":null,"scale":{"type":"point","padding":0,"domain":["hi","est"],"range":[114.4,119.8]}}}},
{"data":{"name":"hSMD"},"mark":{"type":"text","style":"hd"},"encoding":{"x":{"datum":0,"type":"quantitative","axis":null,"scale":{"domain":[-2.64,2.64],"range":[452,701],"nice":false,"zero":false}},"text":{"field":"t"}}},
{"data":{"values":[{"row":"test"}]},"mark":{"type":"text","style":"fav","align":"right","dx":-4.5,"dy":5.7,"text":"Favours [control]"},"encoding":{"x":{"datum":0,"type":"quantitative","axis":null,"scale":{"domain":[-2.64,2.64],"range":[452,701],"nice":false,"zero":false}}}},
{"data":{"values":[{"row":"test"}]},"mark":{"type":"text","style":"fav","align":"left","dx":2.5,"dy":5.7,"text":"Favours [experimental]"},"encoding":{"x":{"datum":0,"type":"quantitative","axis":null,"scale":{"domain":[-2.64,2.64],"range":[452,701],"nice":false,"zero":false}}}},
{"data":{"name":"D"},"mark":{"type":"text","align":"left"},"encoding":{"x":{"datum":"L","type":"nominal","axis":null,"scale":{"type":"point","domain":["L"],"range":[10,10]}},"text":{"field":"row"}}},
{"data":{"name":"Dt"},"mark":{"type":"text","align":"left","style":"hd"},"encoding":{"x":{"datum":"L","type":"nominal","axis":null,"scale":{"type":"point","domain":["L"],"range":[10,10]}},"text":{"field":"row"}}},
{"data":{"name":"Dh"},"mark":{"type":"text","align":"left"},"encoding":{"x":{"datum":"L","type":"nominal","axis":null,"scale":{"type":"point","domain":["L"],"range":[10,10]}},"text":{"field":"t"}}},
{"data":{"values":[{"row":"h2"}]},"mark":{"type":"text","align":"left","style":"hd","text":"Study or Subgroup"},"encoding":{"x":{"datum":"L","type":"nominal","axis":null,"scale":{"type":"point","domain":["L"],"range":[10,10]}}}},
{"data":{"values":[{"row":"h1"}]},"mark":{"type":"text","align":"left","baseline":"alphabetic","font":"Liberation Serif","fontSize":17,"dy":-1.1,"text":"D"},"encoding":{"x":{"datum":"L","type":"nominal","axis":null,"scale":{"type":"point","domain":["L"],"range":[10,10]}}}},
{"data":{"name":"D"},"transform":[{"fold":["eM","eSD","eN"]}],"mark":{"type":"text","align":"right"},"encoding":{"x":{"field":"key","type":"nominal","axis":null,"bandPosition":1,"scale":{"type":"band","domain":["eM","eSD","eN"],"range":[111,200],"paddingInner":0,"paddingOuter":0}},"text":{"field":"value","type":"nominal"}}},
{"data":{"name":"Dt"},"transform":[{"fold":["eN"]}],"mark":{"type":"text","align":"right","style":"hd"},"encoding":{"x":{"field":"key","type":"nominal","axis":null,"bandPosition":1,"scale":{"type":"band","domain":["eM","eSD","eN"],"range":[111,200],"paddingInner":0,"paddingOuter":0}},"text":{"field":"value","type":"nominal"}}},
{"data":{"name":"hE"},"mark":{"type":"text","align":"right","style":"hd"},"encoding":{"x":{"field":"key","type":"nominal","axis":null,"bandPosition":1,"scale":{"type":"band","domain":["eM","eSD","eN"],"range":[111,200],"paddingInner":0,"paddingOuter":0}},"text":{"field":"t"}}},
{"data":{"values":[{"row":"h1","key":"eSD"}]},"mark":{"type":"text","style":"hd","text":"Experimental"},"encoding":{"x":{"field":"key","type":"nominal","axis":null,"bandPosition":0.5,"scale":{"type":"band","domain":["eM","eSD","eN"],"range":[111,200],"paddingInner":0,"paddingOuter":0}}}},
{"data":{"name":"D"},"transform":[{"fold":["cM","cSD","cN"]}],"mark":{"type":"text","align":"right"},"encoding":{"x":{"field":"key","type":"nominal","axis":null,"bandPosition":1,"scale":{"type":"band","domain":["cM","cSD","cN"],"range":[206,294],"paddingInner":0,"paddingOuter":0}},"text":{"field":"value","type":"nominal"}}},
{"data":{"name":"Dt"},"transform":[{"fold":["cN"]}],"mark":{"type":"text","align":"right","style":"hd"},"encoding":{"x":{"field":"key","type":"nominal","axis":null,"bandPosition":1,"scale":{"type":"band","domain":["cM","cSD","cN"],"range":[206,294],"paddingInner":0,"paddingOuter":0}},"text":{"field":"value","type":"nominal"}}},
{"data":{"name":"hC"},"mark":{"type":"text","align":"right","style":"hd"},"encoding":{"x":{"field":"key","type":"nominal","axis":null,"bandPosition":1,"scale":{"type":"band","domain":["cM","cSD","cN"],"range":[206,294],"paddingInner":0,"paddingOuter":0}},"text":{"field":"t"}}},
{"data":{"values":[{"row":"h1","key":"cSD"}]},"mark":{"type":"text","style":"hd","text":"Control"},"encoding":{"x":{"field":"key","type":"nominal","axis":null,"bandPosition":0.5,"scale":{"type":"band","domain":["cM","cSD","cN"],"range":[206,294],"paddingInner":0,"paddingOuter":0}}}},
{"data":{"name":"D"},"mark":{"type":"text","align":"right"},"encoding":{"x":{"datum":"W","type":"nominal","axis":null,"scale":{"type":"point","domain":["W"],"range":[336,336]}},"text":{"field":"w","type":"quantitative","format":".1%"}}},
{"data":{"name":"Dt"},"mark":{"type":"text","align":"right","style":"hd"},"encoding":{"x":{"datum":"W","type":"nominal","axis":null,"scale":{"type":"point","domain":["W"],"range":[336,336]}},"text":{"field":"w","type":"quantitative","format":".1%"}}},
{"data":{"values":[{"row":"h2"}]},"mark":{"type":"text","align":"right","style":"hd","text":"Weight"},"encoding":{"x":{"datum":"W","type":"nominal","axis":null,"scale":{"type":"point","domain":["W"],"range":[336,336]}}}},
{"data":{"name":"D"},"mark":{"type":"text","align":"right"},"encoding":{"x":{"datum":"CI","type":"nominal","axis":null,"scale":{"type":"point","domain":["CI"],"range":[443,443]}},"text":{"field":"ci"}}},
{"data":{"name":"Dt"},"mark":{"type":"text","align":"right","style":"hd"},"encoding":{"x":{"datum":"CI","type":"nominal","axis":null,"scale":{"type":"point","domain":["CI"],"range":[443,443]}},"text":{"field":"ci"}}},
{"data":{"name":"hSMD"},"transform":[{"filter":"datum.row == 'h2'"}],"mark":{"type":"text","align":"right","style":"hd"},"encoding":{"x":{"datum":"CI","type":"nominal","axis":null,"scale":{"type":"point","domain":["CI"],"range":[443,443]}},"text":{"field":"t"}}},
{"data":{"name":"hSMD"},"transform":[{"filter":"datum.row == 'h1'"}],"mark":{"type":"text","style":"hd"},"encoding":{"x":{"datum":"CI","type":"nominal","axis":null,"scale":{"type":"point","domain":["CI"],"range":[390,390]}},"text":{"field":"t"}}}
]},
{"width":702,"height":159,
"encoding":{"y":{"field":"row","type":"nominal","axis":null,"scale":{"type":"point","padding":0,"range":[23.6,144],"domain":["h1","h2","Bo 2019","Cramer 2016","Lin 2021","N. Nasimi 2021","sp","Total (95% CI)","het","test"]}}},
"resolve":{"scale":{"x":"independent","y":"independent","size":"independent"}},
"layer":[
{"data":{"values":[{"row":"h2"}]},"mark":{"type":"rule","yOffset":4},"encoding":{}},
{"data":{"values":[{"row":"h2","row2":"het"}]},"mark":{"type":"rule","yOffset":4,"y2Offset":-2.3},"encoding":{"x":{"datum":0,"type":"quantitative","axis":null,"scale":{"domain":[-2.65,2.65],"range":[447,701],"nice":false,"zero":false}},"y2":{"field":"row2"}}},
{"data":{"name":"E"},"mark":{"type":"rule","yOffset":-1.5},"encoding":{"x":{"field":"lo","type":"quantitative","scale":{"domain":[-2.65,2.65],"range":[447,701],"nice":false,"zero":false},"axis":{"orient":"bottom","offset":-30.7,"values":[-2,-1,0,1,2],"title":null}},"x2":{"field":"hi"}}},
{"data":{"name":"E"},"mark":{"type":"point","shape":"square","filled":true,"opacity":1,"color":"#00c000","yOffset":-1.5},"encoding":{"x":{"field":"est","type":"quantitative","scale":{"domain":[-2.65,2.65],"range":[447,701],"nice":false,"zero":false},"axis":{"orient":"top","offset":-128.3,"values":[-2,-1,0,1,2],"labels":false,"domain":false,"title":null}},"size":{"field":"w","type":"quantitative","legend":null,"scale":{"type":"pow","exponent":1.6,"domain":[0,1],"range":[0,233]}}}},
{"data":{"name":"Et"},"transform":[{"fold":["est","lo"]}],"mark":{"type":"area","orient":"horizontal","color":"#000","stroke":"#000","strokeWidth":0.5},"encoding":{"x":{"field":"value","type":"quantitative","axis":null,"scale":{"domain":[-2.65,2.65],"range":[447,701],"nice":false,"zero":false}},"x2":{"field":"est"},"y":{"field":"key","type":"nominal","axis":null,"scale":{"type":"point","padding":0,"domain":["est","lo"],"range":[111.5,116.5]}}}},
{"data":{"name":"Et"},"transform":[{"fold":["lo","est"]}],"mark":{"type":"area","orient":"horizontal","color":"#000","stroke":"#000","strokeWidth":0.5},"encoding":{"x":{"field":"value","type":"quantitative","axis":null,"scale":{"domain":[-2.65,2.65],"range":[447,701],"nice":false,"zero":false}},"x2":{"field":"est"},"y":{"field":"key","type":"nominal","axis":null,"scale":{"type":"point","padding":0,"domain":["lo","est"],"range":[116.5,121.5]}}}},
{"data":{"name":"Et"},"transform":[{"fold":["est","hi"]}],"mark":{"type":"area","orient":"horizontal","color":"#000","stroke":"#000","strokeWidth":0.5},"encoding":{"x":{"field":"value","type":"quantitative","axis":null,"scale":{"domain":[-2.65,2.65],"range":[447,701],"nice":false,"zero":false}},"x2":{"field":"est"},"y":{"field":"key","type":"nominal","axis":null,"scale":{"type":"point","padding":0,"domain":["est","hi"],"range":[111.5,116.5]}}}},
{"data":{"name":"Et"},"transform":[{"fold":["hi","est"]}],"mark":{"type":"area","orient":"horizontal","color":"#000","stroke":"#000","strokeWidth":0.5},"encoding":{"x":{"field":"value","type":"quantitative","axis":null,"scale":{"domain":[-2.65,2.65],"range":[447,701],"nice":false,"zero":false}},"x2":{"field":"est"},"y":{"field":"key","type":"nominal","axis":null,"scale":{"type":"point","padding":0,"domain":["hi","est"],"range":[116.5,121.5]}}}},
{"data":{"name":"hMD"},"mark":{"type":"text","style":"hd"},"encoding":{"x":{"datum":0,"type":"quantitative","axis":null,"scale":{"domain":[-2.65,2.65],"range":[447,701],"nice":false,"zero":false}},"text":{"field":"t"}}},
{"data":{"values":[{"row":"test"}]},"mark":{"type":"text","style":"fav","align":"right","dx":-4.5,"dy":7.7,"text":"Favours [control]"},"encoding":{"x":{"datum":0,"type":"quantitative","axis":null,"scale":{"domain":[-2.65,2.65],"range":[447,701],"nice":false,"zero":false}}}},
{"data":{"values":[{"row":"test"}]},"mark":{"type":"text","style":"fav","align":"left","dx":3,"dy":7.7,"text":"Favours [experimental]"},"encoding":{"x":{"datum":0,"type":"quantitative","axis":null,"scale":{"domain":[-2.65,2.65],"range":[447,701],"nice":false,"zero":false}}}},
{"data":{"name":"E"},"mark":{"type":"text","align":"left"},"encoding":{"x":{"datum":"L","type":"nominal","axis":null,"scale":{"type":"point","domain":["L"],"range":[10,10]}},"text":{"field":"row"}}},
{"data":{"name":"Et"},"mark":{"type":"text","align":"left","style":"hd"},"encoding":{"x":{"datum":"L","type":"nominal","axis":null,"scale":{"type":"point","domain":["L"],"range":[10,10]}},"text":{"field":"row"}}},
{"data":{"name":"Eh"},"mark":{"type":"text","align":"left"},"encoding":{"x":{"datum":"L","type":"nominal","axis":null,"scale":{"type":"point","domain":["L"],"range":[10,10]}},"text":{"field":"t"}}},
{"data":{"values":[{"row":"h2"}]},"mark":{"type":"text","align":"left","style":"hd","text":"Study or Subgroup"},"encoding":{"x":{"datum":"L","type":"nominal","axis":null,"scale":{"type":"point","domain":["L"],"range":[10,10]}}}},
{"data":{"values":[{"row":"h1"}]},"mark":{"type":"text","align":"left","baseline":"alphabetic","font":"Liberation Serif","fontSize":17,"dy":-0.6,"text":"E"},"encoding":{"x":{"datum":"L","type":"nominal","axis":null,"scale":{"type":"point","domain":["L"],"range":[13,13]}}}},
{"data":{"name":"E"},"transform":[{"fold":["eM","eSD","eN"]}],"mark":{"type":"text","align":"right"},"encoding":{"x":{"field":"key","type":"nominal","axis":null,"bandPosition":1,"scale":{"type":"band","domain":["eM","eSD","eN"],"range":[111,200],"paddingInner":0,"paddingOuter":0}},"text":{"field":"value","type":"nominal"}}},
{"data":{"name":"Et"},"transform":[{"fold":["eN"]}],"mark":{"type":"text","align":"right","style":"hd"},"encoding":{"x":{"field":"key","type":"nominal","axis":null,"bandPosition":1,"scale":{"type":"band","domain":["eM","eSD","eN"],"range":[111,200],"paddingInner":0,"paddingOuter":0}},"text":{"field":"value","type":"nominal"}}},
{"data":{"name":"hE"},"mark":{"type":"text","align":"right","style":"hd"},"encoding":{"x":{"field":"key","type":"nominal","axis":null,"bandPosition":1,"scale":{"type":"band","domain":["eM","eSD","eN"],"range":[111,200],"paddingInner":0,"paddingOuter":0}},"text":{"field":"t"}}},
{"data":{"values":[{"row":"h1","key":"eSD"}]},"mark":{"type":"text","style":"hd","text":"Experimental"},"encoding":{"x":{"field":"key","type":"nominal","axis":null,"bandPosition":0.5,"scale":{"type":"band","domain":["eM","eSD","eN"],"range":[111,200],"paddingInner":0,"paddingOuter":0}}}},
{"data":{"name":"E"},"transform":[{"fold":["cM","cSD","cN"]}],"mark":{"type":"text","align":"right"},"encoding":{"x":{"field":"key","type":"nominal","axis":null,"bandPosition":1,"scale":{"type":"band","domain":["cM","cSD","cN"],"range":[206,294],"paddingInner":0,"paddingOuter":0}},"text":{"field":"value","type":"nominal"}}},
{"data":{"name":"Et"},"transform":[{"fold":["cN"]}],"mark":{"type":"text","align":"right","style":"hd"},"encoding":{"x":{"field":"key","type":"nominal","axis":null,"bandPosition":1,"scale":{"type":"band","domain":["cM","cSD","cN"],"range":[206,294],"paddingInner":0,"paddingOuter":0}},"text":{"field":"value","type":"nominal"}}},
{"data":{"name":"hC"},"mark":{"type":"text","align":"right","style":"hd"},"encoding":{"x":{"field":"key","type":"nominal","axis":null,"bandPosition":1,"scale":{"type":"band","domain":["cM","cSD","cN"],"range":[206,294],"paddingInner":0,"paddingOuter":0}},"text":{"field":"t"}}},
{"data":{"values":[{"row":"h1","key":"cSD"}]},"mark":{"type":"text","style":"hd","text":"Control"},"encoding":{"x":{"field":"key","type":"nominal","axis":null,"bandPosition":0.5,"scale":{"type":"band","domain":["cM","cSD","cN"],"range":[206,294],"paddingInner":0,"paddingOuter":0}}}},
{"data":{"name":"E"},"mark":{"type":"text","align":"right"},"encoding":{"x":{"datum":"W","type":"nominal","axis":null,"scale":{"type":"point","domain":["W"],"range":[337,337]}},"text":{"field":"w","type":"quantitative","format":".1%"}}},
{"data":{"name":"Et"},"mark":{"type":"text","align":"right","style":"hd"},"encoding":{"x":{"datum":"W","type":"nominal","axis":null,"scale":{"type":"point","domain":["W"],"range":[337,337]}},"text":{"field":"w","type":"quantitative","format":".1%"}}},
{"data":{"values":[{"row":"h2"}]},"mark":{"type":"text","align":"right","style":"hd","text":"Weight"},"encoding":{"x":{"datum":"W","type":"nominal","axis":null,"scale":{"type":"point","domain":["W"],"range":[337,337]}}}},
{"data":{"name":"E"},"mark":{"type":"text","align":"right"},"encoding":{"x":{"datum":"CI","type":"nominal","axis":null,"scale":{"type":"point","domain":["CI"],"range":[438,438]}},"text":{"field":"ci"}}},
{"data":{"name":"Et"},"mark":{"type":"text","align":"right","style":"hd"},"encoding":{"x":{"datum":"CI","type":"nominal","axis":null,"scale":{"type":"point","domain":["CI"],"range":[438,438]}},"text":{"field":"ci"}}},
{"data":{"name":"hMD"},"transform":[{"filter":"datum.row == 'h2'"}],"mark":{"type":"text","align":"right","style":"hd"},"encoding":{"x":{"datum":"CI","type":"nominal","axis":null,"scale":{"type":"point","domain":["CI"],"range":[438,438]}},"text":{"field":"t"}}},
{"data":{"name":"hMD"},"transform":[{"filter":"datum.row == 'h1'"}],"mark":{"type":"text","style":"hd"},"encoding":{"x":{"datum":"CI","type":"nominal","axis":null,"scale":{"type":"point","domain":["CI"],"range":[387.5,387.5]}},"text":{"field":"t"}}}
]}
],
"config":{
"view":{"stroke":null},
"text":{"font":"Liberation Sans","fontSize":10.2,"baseline":"middle","color":"#000"},
"rule":{"color":"#222","strokeWidth":1},
"axis":{"grid":false,"domainColor":"#222","tickColor":"#222","labelColor":"#333","labelFont":"Liberation Sans","labelFontSize":10.2,"tickSize":4,"labelPadding":1,"labelFlush":false,"labelOverlap":false,"labelExpr":"'' + datum.value"},
"style":{"hd":{"fontWeight":"bold","fontSize":9.8},"hdc":{"fontWeight":"bold","fontSize":11},"c":{"fontSize":11.2},"fav":{"color":"#555"}}
}
}
